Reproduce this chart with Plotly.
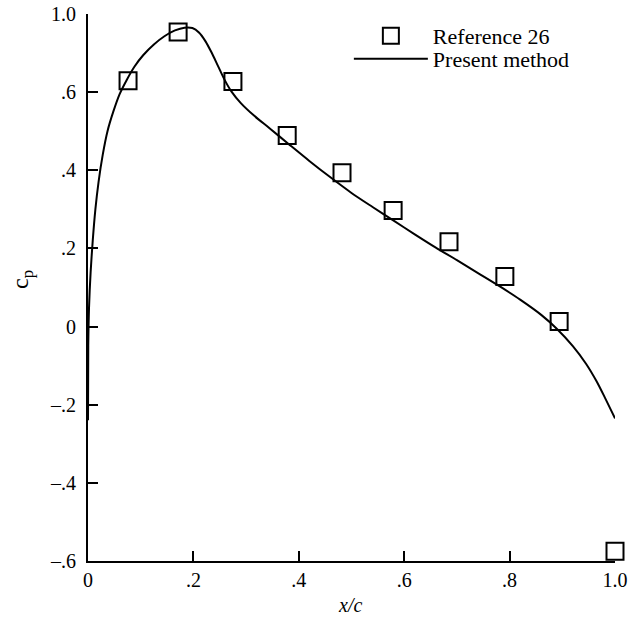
import plotly.graph_objects as go

# Reference 26 (experimental points)
ref_x = [0.076, 0.171, 0.275, 0.378, 0.482, 0.579, 0.685, 0.791, 0.894, 1.0]
ref_cp = [0.629, 0.754, 0.627, 0.489, 0.394, 0.297, 0.217, 0.128, 0.013, -0.575]

# Present method (curve)
pm_x = [0.0, 0.0005, 0.002, 0.005, 0.009, 0.014, 0.020, 0.028, 0.037, 0.048, 0.060,
        0.073, 0.088, 0.105, 0.125, 0.145, 0.165, 0.183, 0.198, 0.211, 0.223,
        0.235, 0.247, 0.259, 0.272, 0.290, 0.315, 0.345, 0.380, 0.42, 0.46, 0.50,
        0.54, 0.58, 0.62, 0.66, 0.70, 0.74, 0.78, 0.82, 0.86, 0.89, 0.92,
        0.945, 0.965, 0.982, 1.0]
pm_cp = [-0.24, -0.05, 0.05, 0.14, 0.22, 0.30, 0.37, 0.44, 0.50, 0.55, 0.595,
         0.63, 0.665, 0.695, 0.722, 0.743, 0.758, 0.765, 0.764, 0.752, 0.730,
         0.700, 0.666, 0.632, 0.602, 0.572, 0.540, 0.507, 0.468, 0.424, 0.382, 0.342,
         0.306, 0.271, 0.236, 0.202, 0.170, 0.137, 0.104, 0.069, 0.030, -0.006, -0.050,
         -0.095, -0.140, -0.185, -0.235]

x_tickvals = [0, 0.2, 0.4, 0.6, 0.8, 1.0]
x_ticktext = ["0", ".2", ".4", ".6", ".8", "1.0"]
y_tickvals = [-0.6, -0.4, -0.2, 0, 0.2, 0.4, 0.6, 0.8]
y_ticktext = ["\u2013.6", "\u2013.4", "\u2013.2", "0", ".2", ".4", ".6", "1.0"]

font_family = "Liberation Serif, Times New Roman, serif"

fig = go.Figure()
fig.add_trace(go.Scatter(
    x=ref_x, y=ref_cp, mode="markers", name="Reference 26", legend="legend",
    marker=dict(symbol="square-open", size=17, color="black", line=dict(width=2, color="black")),
    cliponaxis=False,
))
fig.add_trace(go.Scatter(
    x=pm_x, y=pm_cp, mode="lines", name="Present method", legend="legend2",
    line=dict(color="black", width=2, shape="spline", smoothing=0.8),
    cliponaxis=False,
))

leg_common = dict(
    xanchor="left", yanchor="middle",
    bgcolor="rgba(0,0,0,0)", borderwidth=0,
    font=dict(family=font_family, size=22, color="black"),
    itemwidth=74,
)

fig.update_layout(
    width=640, height=623,
    margin=dict(l=88, r=25, t=14, b=62),
    paper_bgcolor="white", plot_bgcolor="white",
    font=dict(family=font_family, size=20, color="black"),
    showlegend=True,
    legend=dict(x=0.495, y=(561 - 36) / 547, **leg_common),
    legend2=dict(x=0.495, y=(561 - 59) / 547, **leg_common),
    xaxis=dict(
        range=[0, 1.0], tickvals=x_tickvals, ticktext=x_ticktext,
        showgrid=False, zeroline=False, showline=True, linecolor="black", linewidth=2,
        ticks="inside", ticklen=10, tickwidth=2, tickcolor="black",
        automargin=False, tickfont=dict(size=20), ticklabeloverflow="allow",
    ),
    yaxis=dict(
        range=[-0.6, 0.8], tickvals=y_tickvals, ticktext=y_ticktext,
        showgrid=False, zeroline=False, showline=True, linecolor="black", linewidth=2,
        ticks="inside", ticklen=10, tickwidth=2, tickcolor="black",
        automargin=False, tickfont=dict(size=20), ticklabelstandoff=6,
        ticklabeloverflow="allow",
    ),
    annotations=[
        dict(text="<i>x/c</i>", xref="paper", yref="paper", x=0.497, y=-0.08,
             xanchor="center", yanchor="middle", showarrow=False, font=dict(size=20)),
        dict(text="c<sub>p</sub>", xref="paper", yref="paper", x=-0.125, y=0.514,
             xanchor="center", yanchor="middle", showarrow=False, textangle=-90,
             font=dict(size=24)),
    ],
)

fig.write_html("out.html", config={"displayModeBar": False},
               post_script="document.body.style.margin='0';")
